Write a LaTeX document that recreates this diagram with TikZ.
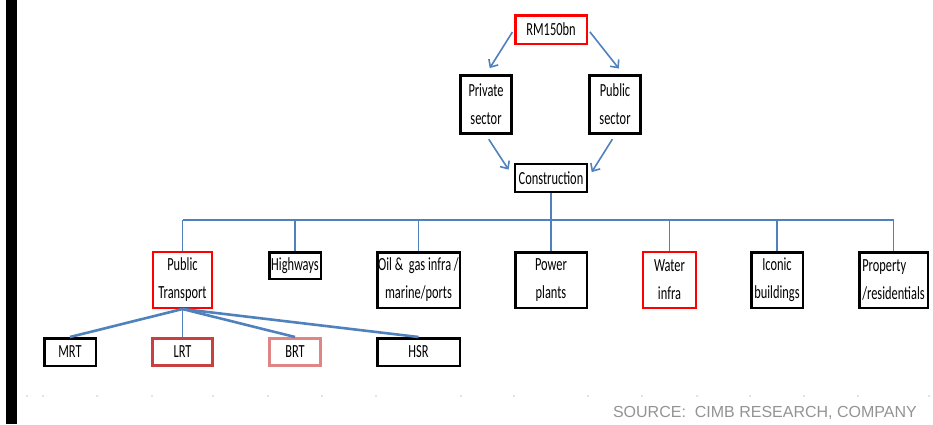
\documentclass[tikz,border=0pt]{standalone}
\usepackage{fontspec}
\setmainfont{Carlito}[FakeStretch=0.67]
\newfontfamily\srcfont{Liberation Sans}
\usepackage{xcolor}
\usetikzlibrary{arrows.meta,calc}
\definecolor{linkblue}{HTML}{4F81BD}
\definecolor{lrtred}{HTML}{C8403F}
\definecolor{brtred}{HTML}{E08585}

\begin{document}
\begin{tikzpicture}[x=1pt, y=-1pt,
      box/.style={rectangle, draw=black, line width=2.5pt, inner xsep=0pt, inner ysep=1pt,
                  align=center, font=\fontsize{18.5}{28}\selectfont},
      redbox/.style={box, draw=red, line width=2pt},
      arr/.style={-{Straight Barb[length=6pt,width=11pt]}, draw=linkblue, line width=1.6pt},
      lnk/.style={draw=linkblue, line width=1.6pt},
      thicklnk/.style={lnk, line width=2.6pt},
    ]

    \useasboundingbox (0,0) rectangle (933,424);

    % Left bar
    \fill[black] (6,0) rectangle (17,424);

    % Top of the tree
    \node[redbox, line width=2.5pt, minimum width=71.5, minimum height=28.5] (rm) at (551,29.5) {RM150bn};
    \node[box, line width=3pt, minimum width=51, minimum height=58] (priv) at (486,104.5) {Private\\sector};
    \node[box, line width=3pt, minimum width=51, minimum height=58] (pub) at (615,104.5) {Public\\sector};
    \node[box, line width=2pt, minimum width=72, minimum height=28] (cons) at (551,178) {Construction};

    % Sectors
    \node[redbox, minimum width=59, minimum height=56] (pt) at (182.5,280) {Public\\Transport};
    \node[box, minimum width=51.5, minimum height=26.5] (hw) at (295,265.5) {Highways};
    \node[box, minimum width=82.5, minimum height=55.5] (oil) at (418.5,280) {Oil \&~ gas infra /\\marine/ports};
    \node[box, minimum width=71.5, minimum height=55.5] (pow) at (551,280) {Power\\plants};
    \node[redbox, minimum width=53, minimum height=56] (wat) at (669.5,280) {Water\\infra};
    \node[box, minimum width=51.5, minimum height=55.5] (ico) at (777,280) {Iconic\\buildings};
    \node[box, align=left, minimum width=68.5, minimum height=55.5] (prop) at (893.5,280) {Property\\/residentials};

    % Public transport modes
    \node[box, minimum width=51.5, minimum height=27.5] (mrt) at (70,352) {MRT};
    \node[box, draw=lrtred, line width=3pt, minimum width=60, minimum height=27] (lrt) at (182.5,352) {LRT};
    \node[box, draw=brtred, line width=3pt, minimum width=51, minimum height=27] (brt) at (295,352) {BRT};
    \node[box, minimum width=82.5, minimum height=27.5] (hsr) at (418.5,352) {HSR};

    % Arrows: funding to sectors to construction
    \draw[arr, shorten <=3pt, shorten >=7pt] (rm.west) -- (priv.north);
    \draw[arr, shorten <=3pt, shorten >=7pt] (rm.east) -- (pub.75);
    \draw[arr, shorten <=5pt, shorten >=10pt] (priv.south) -- (cons.west);
    \draw[arr, shorten <=5pt, shorten >=7pt] (pub.south) -- (cons.east);

    % Bus under construction
    \coordinate (bus) at (0,220);
    \draw[lnk] (cons.south) -- (pow.north);
    \draw[lnk, line width=2.6pt] (pt.north |- bus) -- (prop.north |- bus);
    \foreach \n in {pt,hw,oil,wat,ico,prop}
      \draw[lnk] (\n.north |- bus) -- (\n.north);

    % Links: public transport to modes
    \draw[thicklnk] (pt.south) -- (mrt.north);
    \draw[lnk] (pt.south) -- (lrt.north);
    \draw[thicklnk] (pt.south) -- (brt.north);
    \draw[thicklnk] (pt.south) -- (hsr.north);

    % Ticks along the base
    \foreach \x in {27,43,97,152,213,268,322,376,461,514,588,642,697,750,804,858,929}
      \fill[gray!45] (\x,396) circle (0.8);

    % Source
    \node[anchor=east, inner sep=0pt, text=gray!85, font=\srcfont\fontsize{16}{18}\selectfont] (src) at (917,413)
      {SOURCE:~ CIMB RESEARCH, COMPANY};

\end{tikzpicture}
\end{document}
